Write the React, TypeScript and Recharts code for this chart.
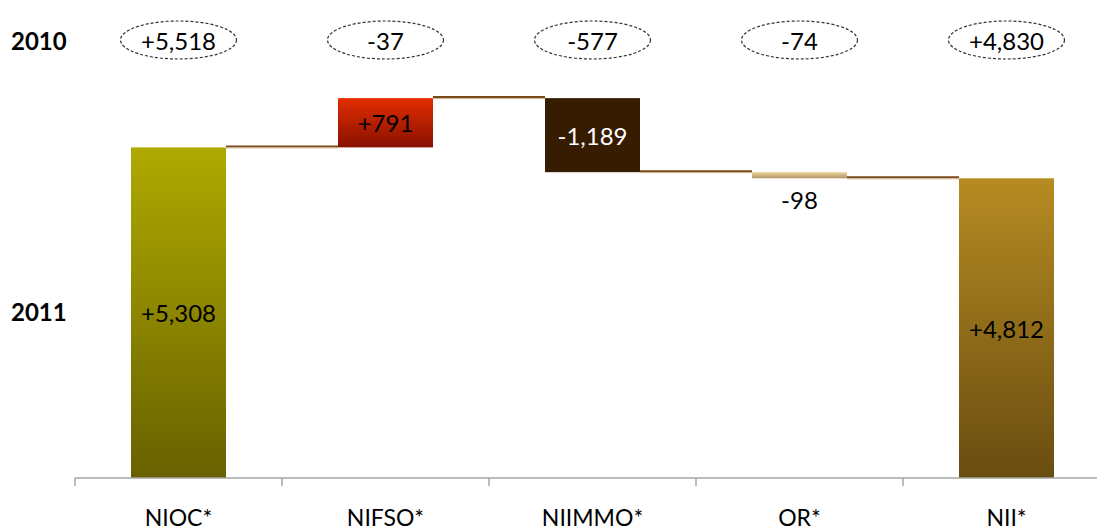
import React from "react";
import { BarChart, Bar, XAxis, YAxis } from "recharts";

// categories and values
const categories = ["NIOC*", "NIFSO*", "NIIMMO*", "OR*", "NII*"];
const values2011 = [5308, 791, -1189, -98, 4812];
const isTotal = [true, false, false, false, true];
const values2010 = ["+5,518", "-37", "-577", "-74", "+4,830"];
const rowLabels = ["2010", "2011"];

const gradients = [
  { id: "gNioc", top: "#afaa00", bottom: "#686100" },
  { id: "gNifso", top: "#e32d00", bottom: "#881100" },
  { id: "gNiimmo", top: "#361c00", bottom: "#361c00" },
  { id: "gOr", top: "#ecd59c", bottom: "#b09562" },
  { id: "gNii", top: "#b68b22", bottom: "#694d11" },
];
const labelColors = ["#000", "#000", "#fff", "#000", "#000"];

const CHART_W = 1110;
const CHART_H = 532;
const MARGIN_LEFT = 75;
const BAND = (CHART_W - MARGIN_LEFT) / categories.length;
const FONT = "Lato, 'Open Sans', sans-serif";

// build the waterfall ranges from running totals
let running = 0;
const data = categories.map((name, i) => {
  const v = values2011[i];
  let low: number;
  let high: number;
  if (isTotal[i]) {
    low = 0;
    high = v;
    running = v;
  } else {
    const start = running;
    running = start + v;
    low = Math.min(start, running);
    high = Math.max(start, running);
  }
  return { name, range: [low, high], value: v };
});

const fmt = (v: number) => (v > 0 ? "+" : "") + v.toLocaleString("en-US");

function WaterfallBar(props: any) {
  const { x, y, width, height, index, payload } = props;
  const last = index === categories.length - 1;
  const endY = payload.value >= 0 ? y : y + height;
  const gap = BAND - width;
  const small = height < 22;
  return (
    <g>
      <rect x={x} y={y} width={width} height={height} fill={`url(#${gradients[index].id})`} />
      {!last && (
        <g>
          <line x1={x + width} x2={x + width + gap} y1={endY - 1} y2={endY - 1} stroke="#7b4a1c" strokeWidth={2} />
          <line x1={x + width} x2={x + width + gap} y1={endY + 0.5} y2={endY + 0.5} stroke="#cdb58f" strokeWidth={1} />
        </g>
      )}
      <text
        x={x + width / 2}
        y={small ? y + height + 21 : y + height / 2}
        textAnchor="middle"
        dominantBaseline="central"
        fontFamily={FONT}
        fontSize={24}
        fill={small ? "#000" : labelColors[index]}
      >
        {fmt(payload.value)}
      </text>
    </g>
  );
}

function TopTick(props: any) {
  const { x, y, index } = props;
  const cy = y - 40;
  return (
    <g>
      <ellipse cx={x} cy={cy} rx={58} ry={19} fill="none" stroke="#333" strokeWidth={1.2} strokeDasharray="3 2" />
      <text x={x} y={cy} textAnchor="middle" dominantBaseline="central" fontFamily={FONT} fontSize={24} fill="#000">
        {values2010[index]}
      </text>
    </g>
  );
}

function BottomTick(props: any) {
  const { x, y, payload } = props;
  const left = x - BAND / 2;
  return (
    <g>
      <line x1={left} x2={left} y1={y} y2={y + 8} stroke="#a6a6a6" strokeWidth={1.5} />
      <text x={x} y={y + 48} textAnchor="middle" fontFamily={FONT} fontSize={23} fill="#000">
        {payload.value}
      </text>
    </g>
  );
}

export default function App() {
  return (
    <div style={{ position: "absolute", left: 0, top: 0, width: 1097, height: 532, overflow: "hidden", background: "#fff" }}>
      <BarChart
        width={CHART_W}
        height={CHART_H}
        data={data}
        margin={{ top: 0, right: 0, left: MARGIN_LEFT, bottom: 0 }}
        barCategoryGap={0}
      >
        <defs>
          {gradients.map((g) => (
            <linearGradient key={g.id} id={g.id} x1="0" y1="0" x2="0" y2="1">
              <stop offset="0%" stopColor={g.top} />
              <stop offset="100%" stopColor={g.bottom} />
            </linearGradient>
          ))}
        </defs>
        <XAxis
          xAxisId="top"
          orientation="top"
          dataKey="name"
          height={80}
          axisLine={false}
          tickLine={false}
          tickSize={0}
          tickMargin={0}
          tick={<TopTick />}
          interval={0}
        />
        <XAxis
          dataKey="name"
          height={54}
          axisLine={{ stroke: "#a6a6a6", strokeWidth: 1.5 }}
          tickLine={false}
          tickSize={0}
          tickMargin={0}
          tick={<BottomTick />}
          interval={0}
        />
        <YAxis hide domain={[0, 6390]} />
        <Bar dataKey="range" barSize={95} shape={<WaterfallBar />} isAnimationActive={false} />
      </BarChart>
      {rowLabels.map((label, i) => (
        <div
          key={label}
          style={{
            position: "absolute",
            left: 11,
            top: i === 0 ? 27 : 298,
            fontFamily: FONT,
            fontWeight: 700,
            fontSize: 24,
            lineHeight: "28px",
            color: "#000",
          }}
        >
          {label}
        </div>
      ))}
    </div>
  );
}
